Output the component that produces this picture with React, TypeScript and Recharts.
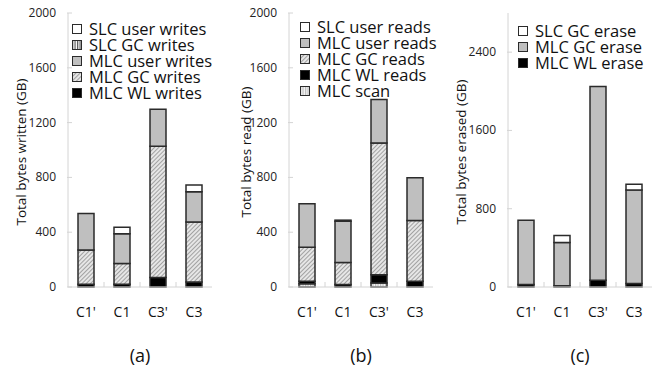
import React from "react";
import { BarChart, Bar, XAxis, YAxis, Legend } from "recharts";

const categories = ["C1'", "C1", "C3'", "C3"];

// (a) writes, GB
const slcUserWrites = [0, 49, 0, 49];
const slcGcWrites = [0, 0, 0, 0];
const mlcUserWrites = [266, 216, 270, 221];
const mlcGcWrites = [250, 152, 958, 437];
const mlcWlWrites = [20, 20, 69, 37];

// (b) reads, GB
const slcUserReads = [0, 8, 0, 0];
const mlcUserReads = [318, 302, 316, 312];
const mlcGcReads = [248, 160, 962, 443];
const mlcWlReads = [18, 18, 61, 42];
const mlcScan = [24, 0, 29, 0];

// (c) erase, GB
const slcGcErase = [0, 72, 0, 61];
const mlcGcErase = [658, 442, 1980, 955];
const mlcWlErase = [25, 12, 68, 35];

const FONT = "'Open Sans', 'Noto Sans', sans-serif";
const STROKE = "#2b2b2b";
const FRAME = "#d4d4d4";

type Series = { key: string; name: string; values: number[]; fill: string };

const buildRows = (series: Series[]) =>
  categories.map((c, i) => {
    const row: Record<string, string | number> = { name: c };
    series.forEach((s) => (row[s.key] = s.values[i]));
    return row;
  });

interface PanelProps {
  left: number;
  plotLeft: number;
  rightMargin: number;
  yLabel: string;
  yLabelX: number;
  panelLabel: string;
  yMax: number;
  yTicks: number[];
  series: Series[]; // bottom to top
  legendX: number;
  legendY: number;
}

const PLOT_TOP = 13;
const PLOT_BOTTOM = 287;

function Panel(p: PanelProps) {
  const data = buildRows(p.series);
  const plotW = 220 - p.plotLeft - p.rightMargin;
  const half = plotW / categories.length / 2;

  const renderLegend = () => (
    <div style={{ fontFamily: FONT, fontSize: 16.5, color: "#111", lineHeight: "16px" }}>
      {[...p.series].reverse().map((s) => (
        <div key={s.key} style={{ display: "flex", alignItems: "center", height: 16 }}>
          <svg width={10} height={10} style={{ marginRight: 7, flexShrink: 0 }}>
            <rect x={0.5} y={0.5} width={9} height={9} fill={s.fill} stroke={STROKE} strokeWidth={1} />
          </svg>
          <span style={{ whiteSpace: "nowrap" }}>{s.name}</span>
        </div>
      ))}
    </div>
  );

  const xTick = (props: any) => {
    const { x, y, payload, index } = props;
    return (
      <g>
        {index < categories.length - 1 && (
          <line x1={x + half} x2={x + half} y1={y - 5} y2={y} stroke={FRAME} strokeWidth={1} />
        )}
        <text x={x} y={y + 30} textAnchor="middle" fontFamily={FONT} fontSize={14} fill="#111">
          {payload.value}
        </text>
      </g>
    );
  };

  const yTick = (props: any) => {
    const { x, y, payload } = props;
    return (
      <g>
        <line x1={x + 11} x2={x + 16} y1={y} y2={y} stroke={FRAME} strokeWidth={1} />
        <text x={x} y={y + 4} textAnchor="end" fontFamily={FONT} fontSize={12} fill="#222">
          {payload.value}
        </text>
      </g>
    );
  };

  return (
    <div style={{ position: "absolute", left: p.left, top: 0, width: 220, height: 367 }}>
      <BarChart
        width={220}
        height={330}
        data={data}
        margin={{ top: PLOT_TOP, right: p.rightMargin, bottom: 0, left: p.plotLeft - 60 }}
        barSize={16}
      >
        <XAxis
          dataKey="name"
          height={330 - PLOT_BOTTOM}
          axisLine={{ stroke: FRAME }}
          tickLine={false}
          tickSize={0}
          tickMargin={0}
          tick={xTick}
          interval={0}
        />
        <XAxis
          xAxisId="top"
          dataKey="name"
          orientation="top"
          height={0}
          axisLine={{ stroke: FRAME }}
          tick={false}
          tickLine={false}
        />
        <YAxis
          width={60}
          domain={[0, p.yMax]}
          ticks={p.yTicks}
          interval={0}
          axisLine={{ stroke: FRAME }}
          tickLine={false}
          tickSize={0}
          tickMargin={12}
          tick={yTick}
          label={() => (
            <text
              transform={`translate(${p.yLabelX}, 152) rotate(-90)`}
              textAnchor="middle"
              dominantBaseline="central"
              fontFamily={FONT}
              fontSize={13.5}
              fill="#111"
            >
              {p.yLabel}
            </text>
          )}
        />
        <YAxis
          yAxisId="right"
          orientation="right"
          width={0}
          domain={[0, p.yMax]}
          axisLine={{ stroke: FRAME }}
          tick={false}
          tickLine={false}
        />
        <Legend
          content={renderLegend}
          layout="horizontal"
          verticalAlign="middle"
          align="center"
          wrapperStyle={{ position: "absolute", left: p.legendX, top: p.legendY, width: "auto", height: "auto" }}
        />
        {p.series.map((s) => (
          <Bar
            key={s.key}
            dataKey={s.key}
            name={s.name}
            stackId="a"
            fill={s.fill}
            stroke={STROKE}
            strokeWidth={1.5}
            isAnimationActive={false}
          />
        ))}
      </BarChart>
      <div
        style={{
          position: "absolute",
          left: p.plotLeft,
          width: plotW,
          top: 345,
          textAlign: "center",
          fontFamily: FONT,
          fontSize: 18,
          color: "#111",
          lineHeight: "20px",
        }}
      >
        {p.panelLabel}
      </div>
    </div>
  );
}

export default function App() {
  return (
    <div style={{ position: "absolute", left: 0, top: 0, width: 655, height: 367, background: "#fff" }}>
      <svg width={0} height={0} style={{ position: "absolute" }}>
        <defs>
          <pattern id="hatch" width={3} height={3} patternUnits="userSpaceOnUse" patternTransform="rotate(45)">
            <rect width={3} height={3} fill="#e6e6e6" />
            <line x1={0.5} y1={0} x2={0.5} y2={3} stroke="#a2a2a2" strokeWidth={1} />
          </pattern>
          <pattern id="vdark" width={2.5} height={4} patternUnits="userSpaceOnUse">
            <rect width={2.5} height={4} fill="#ffffff" />
            <line x1={0.6} y1={0} x2={0.6} y2={4} stroke="#555" strokeWidth={1.2} />
          </pattern>
          <pattern id="vlight" width={2.5} height={4} patternUnits="userSpaceOnUse">
            <rect width={2.5} height={4} fill="#f4f4f4" />
            <line x1={0.6} y1={0} x2={0.6} y2={4} stroke="#b4b4b4" strokeWidth={1} />
          </pattern>
        </defs>
      </svg>
      <Panel
        left={0}
        plotLeft={68}
        rightMargin={8}
        yLabel="Total bytes written (GB)"
        yLabelX={21}
        panelLabel="(a)"
        yMax={2000}
        yTicks={[0, 400, 800, 1200, 1600, 2000]}
        legendX={72}
        legendY={21}
        series={[
          { key: "mlcWl", name: "MLC WL writes", values: mlcWlWrites, fill: "#000000" },
          { key: "mlcGc", name: "MLC GC writes", values: mlcGcWrites, fill: "url(#hatch)" },
          { key: "mlcUser", name: "MLC user writes", values: mlcUserWrites, fill: "#bfbfbf" },
          { key: "slcGc", name: "SLC GC writes", values: slcGcWrites, fill: "url(#vdark)" },
          { key: "slcUser", name: "SLC user writes", values: slcUserWrites, fill: "#ffffff" },
        ]}
      />
      <Panel
        left={220}
        plotLeft={69}
        rightMargin={7}
        yLabel="Total bytes read (GB)"
        yLabelX={26}
        panelLabel="(b)"
        yMax={2000}
        yTicks={[0, 400, 800, 1200, 1600, 2000]}
        legendX={80}
        legendY={19}
        series={[
          { key: "scan", name: "MLC scan", values: mlcScan, fill: "url(#vlight)" },
          { key: "mlcWl", name: "MLC WL reads", values: mlcWlReads, fill: "#000000" },
          { key: "mlcGc", name: "MLC GC reads", values: mlcGcReads, fill: "url(#hatch)" },
          { key: "mlcUser", name: "MLC user reads", values: mlcUserReads, fill: "#bfbfbf" },
          { key: "slcUser", name: "SLC user reads", values: slcUserReads, fill: "#ffffff" },
        ]}
      />
      <Panel
        left={440}
        plotLeft={68}
        rightMargin={8}
        yLabel="Total bytes erased (GB)"
        yLabelX={21}
        panelLabel="(c)"
        yMax={2800}
        yTicks={[0, 800, 1600, 2400]}
        legendX={78}
        legendY={23}
        series={[
          { key: "mlcWl", name: "MLC WL erase", values: mlcWlErase, fill: "#000000" },
          { key: "mlcGc", name: "MLC GC erase", values: mlcGcErase, fill: "#bfbfbf" },
          { key: "slcGc", name: "SLC GC erase", values: slcGcErase, fill: "#ffffff" },
        ]}
      />
    </div>
  );
}
